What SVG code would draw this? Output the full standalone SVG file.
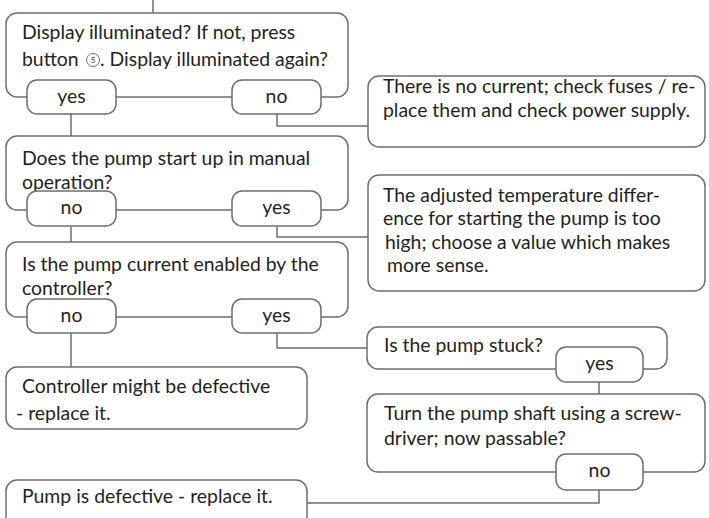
<svg xmlns="http://www.w3.org/2000/svg" width="709" height="518" viewBox="0 0 709 518">
<style>
.box{fill:#fff;stroke:#6d6e71;stroke-width:1.5}
.pill{fill:#fff;stroke:#6d6e71;stroke-width:1.5}
.ln{fill:none;stroke:#6d6e71;stroke-width:1.5}
text{font-family:Lato,"Open Sans",sans-serif;font-size:19.4px;fill:#231f20}
.c{text-anchor:middle}
</style>
<rect width="709" height="518" fill="#fff"/>
<g id="connectors">
<path class="ln" d="M153 0V13"/>
<path class="ln" d="M277 113V126H368"/>
<path class="ln" d="M71 113V136"/>
<path class="ln" d="M277 227V237H369"/>
<path class="ln" d="M71 227V242"/>
<path class="ln" d="M277 333V348H368"/>
<path class="ln" d="M71 333V367"/>
<path class="ln" d="M599 382V394"/>
<path class="ln" d="M599 490V503H307"/>
</g>
<g id="q1">
<rect class="box" x="6" y="13" width="342" height="84" rx="11"/>
<text x="22" y="39">Display illuminated? If not, press</text>
<text x="22" y="66">button</text>
<circle cx="93" cy="60" r="6.5" fill="#fff" stroke="#6d6e71" stroke-width="1"/>
<text x="93" y="63" class="c" style="font-size:8px">5</text>
<text x="100" y="66">. Display illuminated again?</text>
<rect class="pill" x="27" y="80" width="89" height="34" rx="10"/>
<text class="c" x="71.5" y="103">yes</text>
<rect class="pill" x="232" y="80" width="89" height="34" rx="10"/>
<text class="c" x="276.5" y="103">no</text>
</g>
<g id="nocurrent">
<rect class="box" x="368" y="76" width="337" height="71" rx="11"/>
<text x="383" y="93">There is no current; check fuses / re-</text>
<text x="383" y="117">place them and check power supply.</text>
</g>
<g id="q2">
<rect class="box" x="6" y="136" width="342" height="74" rx="11"/>
<text x="22" y="165">Does the pump start up in manual</text>
<text x="22" y="189">operation?</text>
<rect class="pill" x="27" y="191" width="89" height="35" rx="10"/>
<text class="c" x="71.5" y="214">no</text>
<rect class="pill" x="232" y="191" width="89" height="35" rx="10"/>
<text class="c" x="276.5" y="214">yes</text>
</g>
<g id="tempdiff">
<rect class="box" x="368" y="175" width="337" height="116" rx="11"/>
<text x="383" y="202">The adjusted temperature differ-</text>
<text x="383" y="225">ence for starting the pump is too</text>
<text x="385" y="249">high; choose a value which makes</text>
<text x="387" y="272">more sense.</text>
</g>
<g id="q3">
<rect class="box" x="6" y="242" width="342" height="75" rx="11"/>
<text x="22" y="271">Is the pump current enabled by the</text>
<text x="22" y="295">controller?</text>
<rect class="pill" x="27" y="299" width="89" height="34" rx="10"/>
<text class="c" x="71.5" y="322">no</text>
<rect class="pill" x="232" y="299" width="89" height="34" rx="10"/>
<text class="c" x="276.5" y="322">yes</text>
</g>
<g id="controller">
<rect class="box" x="6" y="367" width="301" height="62" rx="11"/>
<text x="22" y="393">Controller might be defective</text>
<text x="16" y="420">- replace it.</text>
</g>
<g id="stuck">
<rect class="box" x="367" y="327" width="300" height="42" rx="11"/>
<text x="384" y="352">Is the pump stuck?</text>
<rect class="pill" x="556" y="347" width="87" height="35" rx="10"/>
<text class="c" x="599.5" y="370">yes</text>
</g>
<g id="shaft">
<rect class="box" x="367" y="394" width="338" height="78" rx="11"/>
<text x="384" y="420">Turn the pump shaft using a screw-</text>
<text x="384" y="445">driver; now passable?</text>
<rect class="pill" x="556" y="454" width="87" height="36" rx="10"/>
<text class="c" x="599.5" y="477">no</text>
</g>
<g id="defective">
<rect class="box" x="6" y="480" width="301" height="50" rx="11"/>
<text x="22" y="503">Pump is defective - replace it.</text>
</g>
</svg>
